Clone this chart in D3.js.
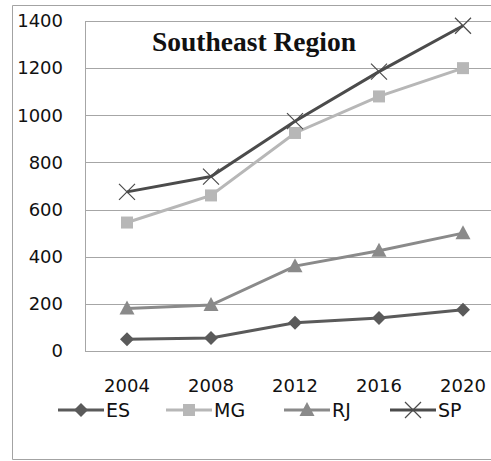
<!DOCTYPE html>
<html>
<head>
<meta charset="utf-8">
<script src="https://cdn.jsdelivr.net/npm/d3@7"></script>
<style>
  html, body { margin: 0; padding: 0; background: #fff; overflow: hidden; }
  svg { display: block; }
</style>
</head>
<body>
<div id="chart"></div>
<script>
// chart data
var years = ["2004", "2008", "2012", "2016", "2020"];
var yTicks = [0, 200, 400, 600, 800, 1000, 1200, 1400];
var seriesNames = ["ES", "MG", "RJ", "SP"];
var esValues = [50, 55, 120, 140, 175];
var mgValues = [545, 660, 925, 1080, 1200];
var rjValues = [180, 195, 360, 425, 500];
var spValues = [675, 740, 975, 1185, 1380];

var svgWidth = 491;
var svgHeight = 461;

// plot area - the band scale runs past the right edge like the original crop
var margin = { top: 21, left: 85 };
var innerWidth = 420;
var innerHeight = 330;
var visibleWidth = svgWidth - margin.left;

var series = [
    { name: "ES", values: esValues, color: "#5a5a5a", marker: "diamond" },
    { name: "MG", values: mgValues, color: "#b7b7b7", marker: "square" },
    { name: "RJ", values: rjValues, color: "#8a8a8a", marker: "triangle" },
    { name: "SP", values: spValues, color: "#4b4b4b", marker: "cross" }
];

var svg = d3.select("#chart")
    .append("svg")
    .attr("width", svgWidth)
    .attr("height", svgHeight);

// outer frame (right side is cropped off)
svg.append("path")
    .attr("d", `M${svgWidth},5.5H12.5V459.5H${svgWidth}`)
    .attr("fill", "none")
    .attr("stroke", "#a3a3a3");

var g = svg.append("g")
    .attr("transform", `translate(${margin.left}, ${margin.top})`);

var xScale = d3.scaleBand()
    .domain(years)
    .range([0, innerWidth]);

var yScale = d3.scaleLinear()
    .domain([0, 1400])
    .range([innerHeight, 0]);

// gridlines
g.selectAll(".grid").data(yTicks)
    .enter().append("line")
    .attr("class", "grid")
    .attr("x1", 0).attr("x2", visibleWidth)
    .attr("y1", d => Math.round(yScale(d)) + 0.5)
    .attr("y2", d => Math.round(yScale(d)) + 0.5)
    .attr("stroke", "#a6a6a6");

g.append("line")
    .attr("x1", 0.5).attr("x2", 0.5)
    .attr("y1", 0).attr("y2", innerHeight)
    .attr("stroke", "#a6a6a6");

// y axis
var yAxis = d3.axisLeft(yScale).tickValues(yTicks).tickFormat(d3.format("d"))
    .tickSize(0).tickPadding(22);
var yG = g.append("g").call(yAxis);
yG.select(".domain").remove();
yG.selectAll("text")
    .style("font", "18px 'DejaVu Sans'")
    .attr("fill", "#111");

// x axis
var xAxis = d3.axisBottom(xScale).tickSize(0).tickPadding(28);
var xG = g.append("g").attr("transform", `translate(0, ${innerHeight})`).call(xAxis);
xG.select(".domain").remove();
xG.selectAll("text")
    .style("font", "18px 'DejaVu Sans'")
    .attr("fill", "#111");

// title
g.append("text")
    .attr("x", 67)
    .attr("y", 30)
    .text("Southeast Region")
    .style("font", "bold 27.5px 'Liberation Serif'")
    .attr("fill", "#111");

function drawMarker(sel, type, color) {
    if (type === "diamond") {
        sel.append("path").attr("d", "M0,-7L7,0L0,7L-7,0Z").attr("fill", color);
    } else if (type === "square") {
        sel.append("rect").attr("x", -6).attr("y", -6).attr("width", 12).attr("height", 12).attr("fill", color);
    } else if (type === "triangle") {
        sel.append("path").attr("d", "M0,-8L7.5,6L-7.5,6Z").attr("fill", color);
    } else {
        sel.append("path").attr("d", "M-8,-8L8,8M-8,8L8,-8")
            .attr("stroke", color).attr("stroke-width", 1.2).attr("fill", "none");
    }
}

var line = d3.line()
    .x((d, i) => xScale(years[i]) + xScale.bandwidth() / 2)
    .y(d => yScale(d));

series.forEach(function (s) {
    g.append("path")
        .datum(s.values)
        .attr("d", line)
        .attr("fill", "none")
        .attr("stroke", s.color)
        .attr("stroke-width", 3);

    s.values.forEach(function (v, i) {
        var m = g.append("g")
            .attr("transform", `translate(${xScale(years[i]) + xScale.bandwidth() / 2}, ${yScale(v)})`);
        drawMarker(m, s.marker, s.color);
    });
});

// legend
var legendX = [58, 166, 284, 390];
var legend = svg.append("g").attr("transform", "translate(0, 410)");
series.forEach(function (s, i) {
    var lg = legend.append("g").attr("transform", `translate(${legendX[i]}, 0)`);
    lg.append("line")
        .attr("x1", 0).attr("x2", 46)
        .attr("stroke", s.color).attr("stroke-width", 3);
    drawMarker(lg.append("g").attr("transform", "translate(23, 0)"), s.marker, s.color);
    lg.append("text")
        .attr("x", 48).attr("y", 7)
        .text(s.name)
        .style("font", "19px 'DejaVu Sans'")
        .attr("fill", "#111");
});
</script>
</body>
</html>
